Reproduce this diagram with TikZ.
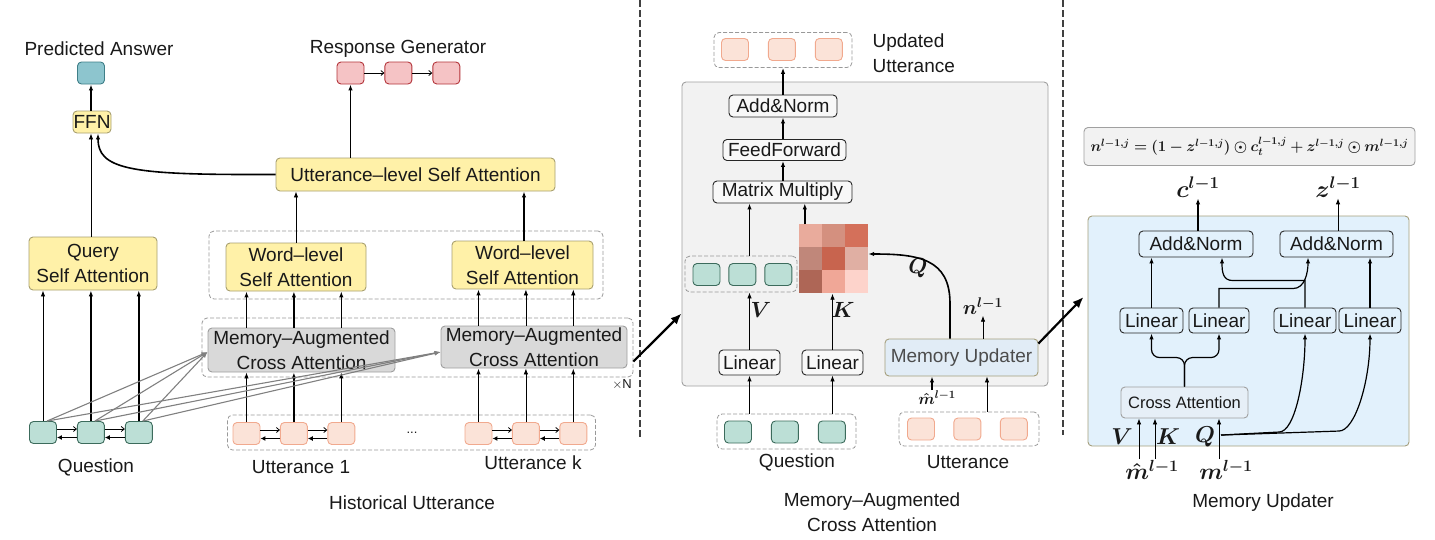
\RequirePackage{fix-cm}
\documentclass[tikz,border=0pt]{standalone}
\usepackage{amsmath,bm}
\usepackage[no-math]{fontspec}
\setmainfont{Liberation Sans}
\usetikzlibrary{arrows.meta,positioning,calc}
\definecolor{yfill}{HTML}{FFF1A8}
\definecolor{yline}{HTML}{A8A070}
\definecolor{afill}{HTML}{8DC5CE}
\definecolor{aline}{HTML}{3F7F88}
\definecolor{rfill}{HTML}{F5C3C5}
\definecolor{rline}{HTML}{B3343A}
\definecolor{ufill}{HTML}{FBE3D8}
\definecolor{uline}{HTML}{F1A98E}
\definecolor{qfill}{HTML}{BCDFD6}
\definecolor{qline}{HTML}{3C6B5C}
\definecolor{mfill}{HTML}{D9D9D9}
\definecolor{mline}{HTML}{9E9E9E}
\definecolor{pfill}{HTML}{F2F2F2}
\definecolor{pline}{HTML}{A0A0A0}
\definecolor{mufill}{HTML}{E1ECF6}
\definecolor{muline}{HTML}{A59F7C}
\definecolor{bfill}{HTML}{E2F1FC}
\definecolor{cafill}{HTML}{E6EFF7}
\definecolor{grpline}{HTML}{999999}
\definecolor{arrgray}{HTML}{808080}
\definecolor{hA}{HTML}{E9AB9C}
\definecolor{hB}{HTML}{D4907F}
\definecolor{hC}{HTML}{D4705A}
\definecolor{hD}{HTML}{C0877A}
\definecolor{hE}{HTML}{C8644E}
\definecolor{hF}{HTML}{E0AFA3}
\definecolor{hG}{HTML}{AE6656}
\definecolor{hH}{HTML}{F0A797}
\definecolor{hI}{HTML}{FDD3CB}
\tikzset{
	every node/.style={font=\fontsize{19}{25}\selectfont, text=black!90},
	box/.style={draw, rounded corners=4pt, inner sep=0pt, align=center, line width=0.9pt},
	ybox/.style={box, fill=yfill, draw=yline},
	mbox/.style={box, fill=mfill, draw=mline},
	opbox_m/.style={box, fill=white!50!pfill, draw=black!85},
	opbox_r/.style={box, fill=bfill, draw=black!85},
	mubox/.style={box, fill=mufill, draw=muline, text=black!70},
	cabox/.style={box, fill=cafill, draw=pline, font=\fontsize{16.5}{20}\selectfont},
	panel/.style={draw=pline, fill=pfill, rounded corners=4pt, line width=0.9pt, inner sep=0pt},
	tok/.style={draw, rounded corners=4pt, minimum width=27pt, minimum height=22pt,
		inner sep=0pt, line width=0.9pt},
	tok_q/.style={tok, fill=qfill, draw=qline},
	tok_u/.style={tok, fill=ufill, draw=uline},
	tok_r/.style={tok, fill=rfill, draw=rline},
	grp/.style={draw=grpline, dash pattern=on 4pt off 2pt, rounded corners=5pt,
		line width=0.8pt, inner sep=0pt},
	mlab/.style={font=\fontsize{#1}{#1}\selectfont, inner sep=1pt},
	up_arrow/.style={-{Latex[length=6pt,width=4.5pt]}, line width=0.8pt},
	up_mid/.style={up_arrow, line width=1.2pt},
	up_thick/.style={up_arrow, line width=1.6pt},
	chain_arrow/.style={-{Straight Barb[length=3pt,width=5pt]}, line width=0.8pt},
	back_arrow/.style={-{Latex[length=5pt,width=5pt]}, line width=1.6pt},
	gray_arrow/.style={-{Latex[length=6pt,width=4.5pt]}, draw=arrgray, line width=1.1pt},
	big_arrow/.style={-{Latex[length=11pt,width=9pt]}, line width=2.2pt},
	divider/.style={draw=black!75, dash pattern=on 7pt off 3pt, line width=1.1pt}
}
\begin{document}
\begin{tikzpicture}[x=1pt,y=-1pt]
\useasboundingbox (0,0) rectangle (1435,539);

% dividers
\draw[divider] (640,0) -- (640,440);
\draw[divider] (1063,0) -- (1063,435);

% ---------- historical utterance encoder
\node (pa_lab) at (99,49) {Predicted Answer};
\node[tok, fill=afill, draw=aline] (ans) at (91,73) {};
\node[ybox, minimum width=38pt, minimum height=22pt] (ffn) at (92,122) {FFN};
\node (rg_lab) at (398,49) {Response Generator};
\node[tok_r] (r1) at (350.5,73) {};
\node[tok_r, right=20pt of r1] (r2) {};
\node[tok_r, right=20pt of r2] (r3) {};
\node[ybox, minimum width=279pt, minimum height=33pt] (usa) at (415.5,174.5) {Utterance--level Self Attention};
\node[ybox, minimum width=128pt, minimum height=53pt] (qsa) at (93,263.5) {Query\\Self Attention};
\node[grp, minimum width=394pt, minimum height=68pt] (wgrp) at (406,265) {};
\node[ybox, minimum width=140pt, minimum height=48pt] (wsa1) at (296,267) {Word--level\\Self Attention};
\node[ybox, minimum width=141pt, minimum height=48pt] (wsa2) at (522.5,265) {Word--level\\Self Attention};
\node[grp, minimum width=431pt, minimum height=59pt] (mgrp) at (417.5,347.5) {};
\node[mbox, minimum width=187pt, minimum height=44pt] (maca1) at (301.5,350) {Memory--Augmented\\Cross Attention};
\node[mbox, minimum width=186pt, minimum height=42pt] (maca2) at (534,347) {Memory--Augmented\\Cross Attention};
\node[font=\fontsize{13}{13}\selectfont] (xn) at (622,385) {$\times$N};

\node[tok_q] (q1) at (43,432.5) {};
\node[tok_q, right=20pt of q1] (q2) {};
\node[tok_q, right=20pt of q2] (q3) {};
\node (q_lab) at (96,467) {Question};
\node[grp, minimum width=368pt, minimum height=35pt] (hgrp) at (411.5,432.5) {};
\node[tok_u] (u1a) at (246.5,433.5) {};
\node[tok_u, right=19.5pt of u1a] (u1b) {};
\node[tok_u, right=19.5pt of u1b] (u1c) {};
\node[font=\fontsize{13}{13}\selectfont] (dots) at (412,433) {...};
\node[tok_u] (uka) at (478.5,433.5) {};
\node[tok_u, right=19.5pt of uka] (ukb) {};
\node[tok_u, right=19.5pt of ukb] (ukc) {};
\node (u1_lab) at (301,467) {Utterance 1};
\node (uk_lab) at (533,463) {Utterance k};
\node (hu_lab) at (412,503) {Historical Utterance};

\draw[up_thick] (ffn.north -| ans) -- (ans.south);
\draw[up_arrow] (qsa.north -| ans) -- (ans |- ffn.south);
\draw[up_thick] (usa.west) -- ++(-26,0) .. controls +(-120,0) and +(0,35) .. ([xshift=6pt]ffn.south);
\draw[up_thick] (usa.north -| r1) -- (r1.south);
\draw[chain_arrow] (r1) -- (r2);
\draw[chain_arrow] (r2) -- (r3);
\draw[up_arrow] (wsa1.north) -- (wsa1.north |- usa.south);
\draw[up_thick] ([xshift=1.5pt]wsa2.north) -- ([xshift=1.5pt]wsa2.north |- usa.south);
\foreach \t/\m/\w/\sa/\sb in {u1a/maca1/wsa1/up_arrow/up_thick, u1b/maca1/wsa1/up_thick/up_thick,
	u1c/maca1/wsa1/up_thick/up_thick, uka/maca2/wsa2/up_thick/up_thick,
	ukb/maca2/wsa2/up_arrow/up_arrow, ukc/maca2/wsa2/up_thick/up_arrow} {
	\draw[\sa] (\t.north) -- (\t.north |- \m.south);
	\draw[\sb] (\t.north |- \m.north) -- (\t.north |- \w.south);
}
\foreach \t/\s in {q1/up_arrow, q2/up_thick, q3/up_thick}
	\draw[\s] (\t.north) -- (\t.north |- qsa.south);
\foreach \t in {q1,q2,q3}
	\foreach \m/\dy in {maca1/-2pt, maca2/-5pt}
		\draw[gray_arrow] ([xshift=4pt]\t.north) -- ([yshift=\dy]\m.west);
\foreach \a/\b in {q1/q2, q2/q3, u1a/u1b, u1b/u1c, uka/ukb, ukb/ukc} {
	\draw[chain_arrow] ([yshift=3.5pt]\a.east) -- ([yshift=3.5pt]\b.west);
	\draw[back_arrow] ([yshift=-5pt]\b.west) -- ([yshift=-5pt]\a.east);
}

% ---------- memory-augmented cross attention
\node[panel, minimum width=366pt, minimum height=304pt] (mpanel) at (865,234) {};
\node[grp, minimum width=138pt, minimum height=35pt] (upd_grp) at (783,50) {};
\node[tok_u] (up1) at (735,49.5) {};
\node[tok_u, right=19pt of up1] (up2) {};
\node[tok_u, right=19pt of up2] (up3) {};
\node[anchor=west, align=left] (upd_lab) at (869,53) {Updated\\Utterance};
\node[opbox_m, minimum width=108pt, minimum height=22pt] (an) at (783,106) {Add\&Norm};
\node[opbox_m, minimum width=123pt, minimum height=21pt] (ff) at (784.5,150) {FeedForward};
\node[opbox_m, minimum width=139pt, minimum height=22pt] (mm) at (782.5,192) {Matrix Multiply};
\node[grp, minimum width=112pt, minimum height=36pt] (v_grp) at (741,274) {};
\node[tok_q] (v1) at (706.5,274.5) {};
\node[tok_q, right=8pt of v1] (v2) {};
\node[tok_q, right=8pt of v2] (v3) {};
\node[minimum width=69pt, minimum height=69pt, inner sep=0pt] (heat) at (833.5,259) {};
\foreach \cc/\i/\j in {hA/0/0, hB/1/0, hC/2/0, hD/0/1, hE/1/1, hF/2/1, hG/0/2, hH/1/2, hI/2/2}
	\fill[\cc] ($(heat.north west)+(\i*23,\j*23)$) rectangle ++(23,23);
\node[opbox_m, minimum width=61pt, minimum height=25pt] (lin_v) at (749.5,362.5) {Linear};
\node[opbox_m, minimum width=61pt, minimum height=25pt] (lin_k) at (832.5,362.5) {Linear};
\node[mubox, minimum width=153pt, minimum height=37pt] (mu) at (961.5,357.5) {Memory Updater};
\node[grp, minimum width=139pt, minimum height=35pt] (qm_grp) at (786.5,431.5) {};
\node[tok_q] (qm1) at (738,432) {};
\node[tok_q, right=19pt of qm1] (qm2) {};
\node[tok_q, right=19pt of qm2] (qm3) {};
\node[grp, minimum width=140pt, minimum height=34pt] (um_grp) at (969,429) {};
\node[tok_u] (um1) at (921,429) {};
\node[tok_u, right=18.5pt of um1] (um2) {};
\node[tok_u, right=18.5pt of um2] (um3) {};
\node (qm_lab) at (797,462) {Question};
\node (um_lab) at (968,462) {Utterance};
\node[align=center] (maca_lab) at (872,512) {Memory--Augmented\\Cross Attention};
\node[mlab=22] (v_lab) at (761,310) {$\bm{V}$};
\node[mlab=22] (k_lab) at (843,310) {$\bm{K}$};
\node[mlab=22] (qq_lab) at (918,268) {$\bm{Q}$};
\node[mlab=20] (n_lab) at (983,306) {$\bm{n^{l-1}}$};
\node[mlab=16] (mh_lab) at (937,398) {$\bm{\hat{m}^{l-1}}$};

\draw[up_thick] (an.north) -- (an.north |- upd_grp.south);
\draw[up_thick] (ff.north -| an) -- (an.south);
\draw[up_thick] (mm.north -| an) -- (ff.south -| an);
\draw[up_thick] (v_grp.north -| lin_v) -- (mm.south -| lin_v);
\draw[up_thick] ([xshift=6pt]heat.north west) -- ([xshift=6pt]heat.north west |- mm.south);
\draw[up_arrow] (lin_v.north) -- (lin_v.north |- v_grp.south);
\draw[up_arrow] (lin_k.north) -- (lin_k.north |- heat.south);
\draw[up_thick] (qm_grp.north -| lin_v) -- (lin_v.south);
\draw[up_arrow] (qm_grp.north -| lin_k) -- (lin_k.south);
\draw[up_thick] ([xshift=-11.5pt]mu.north) -- ++(0,-35) .. controls +(0,-45) and +(50,0) .. ([yshift=5pt]heat.east);
\draw[up_arrow] (mu.north -| n_lab) -- (n_lab.south);
\draw[up_thick] ([xshift=-5pt]mh_lab.north) -- ([xshift=-5pt]mh_lab.north |- mu.south);
\draw[up_arrow] ([xshift=18pt]um_grp.north) -- ([xshift=18pt]um_grp.north |- mu.south);
\draw[big_arrow] ([yshift=-14pt]mgrp.east) -- ([yshift=73pt]mpanel.south west);

% ---------- memory updater
\node[box, fill=pfill, draw=pline, minimum width=331pt, minimum height=38pt] (formula) at (1249.5,146.5)
	{\fontsize{15}{15}\selectfont$\bm{n^{l-1,j} = (1-z^{l-1,j})\odot c_t^{l-1,j} + z^{l-1,j}\odot m^{l-1,j}}$};
\node[panel, fill=bfill, draw=muline, minimum width=321pt, minimum height=230pt] (rpanel) at (1248.5,331) {};
\node[mlab=24] (c_lab) at (1198,187) {$\bm{c^{l-1}}$};
\node[mlab=24] (z_lab) at (1338,187) {$\bm{z^{l-1}}$};
\node[opbox_r, minimum width=114pt, minimum height=26pt] (anl) at (1196,244) {Add\&Norm};
\node[opbox_r, minimum width=113pt, minimum height=26pt] (anr) at (1336.5,244) {Add\&Norm};
\node[opbox_r, minimum width=63pt, minimum height=25pt] (ln1) at (1151.5,320.5) {Linear};
\node[opbox_r, minimum width=60pt, minimum height=25pt] (ln2) at (1219,320.5) {Linear};
\node[opbox_r, minimum width=62pt, minimum height=25pt] (ln3) at (1305,320.5) {Linear};
\node[opbox_r, minimum width=62pt, minimum height=25pt] (ln4) at (1370,320.5) {Linear};
\node[cabox, minimum width=127pt, minimum height=31pt] (ca) at (1184.5,402.5) {Cross Attention};
\node[mlab=23] (vr_lab) at (1122,437) {$\bm{V}$};
\node[mlab=23] (kr_lab) at (1168,437) {$\bm{K}$};
\node[mlab=23] (qr_lab) at (1205,437) {$\bm{Q}$};
\node[mlab=23] (mhr_lab) at (1152,470) {$\bm{\hat{m}^{l-1}}$};
\node[mlab=23] (mr_lab) at (1226,470) {$\bm{m^{l-1}}$};
\node (mu_lab) at (1263,503) {Memory Updater};

\draw[up_thick] (anl.north -| c_lab) -- (c_lab.south);
\draw[up_arrow] (anr.north -| z_lab) -- (z_lab.south);
\draw[up_thick] (ln1.north) -- (ln1.north |- anl.south);
\draw[up_thick] (ln4.north) -- (ln4.north |- anr.south);
\draw[up_mid] (ln2.north) -- ++(0,-19) -- ++(74,0) .. controls +(12,0) and +(0,15) .. ([xshift=-28.5pt]anr.south);
\draw[up_mid] (ln3.north) -- ++(0,-27) -- ++(-72,0) .. controls +(-10,0) and +(0,15) .. ([xshift=26pt]anl.south);
\draw[up_mid, rounded corners=8pt] (ca.north) -- ++(0,-29) -| (ln1.south);
\draw[up_mid, rounded corners=8pt] (ca.north) -- ++(0,-29) -| (ln2.south);
\draw[up_arrow] ([xshift=-13pt]mhr_lab.north) -- ([xshift=-13pt]mhr_lab.north |- ca.south);
\draw[up_arrow] ([xshift=3pt]mhr_lab.north) -- ([xshift=3pt]mhr_lab.north |- ca.south);
\draw[up_arrow] ([xshift=-7pt]mr_lab.north) -- ([xshift=-7pt]mr_lab.north |- ca.south);
\coordinate (q_split) at ($([xshift=-5pt]mr_lab.north)+(0,-24)$);
\draw[up_mid] (q_split) -- ++(58,-3) .. controls +(16,0) and +(0,45) .. (ln3.south);
\draw[up_mid] (q_split) -- ++(118,-4) .. controls +(16,0) and +(0,48) .. (ln4.south);
\draw[big_arrow] ([yshift=14pt]mu.east) -- ([shift={(-4pt,34pt)}]rpanel.west);
\end{tikzpicture}
\end{document}
